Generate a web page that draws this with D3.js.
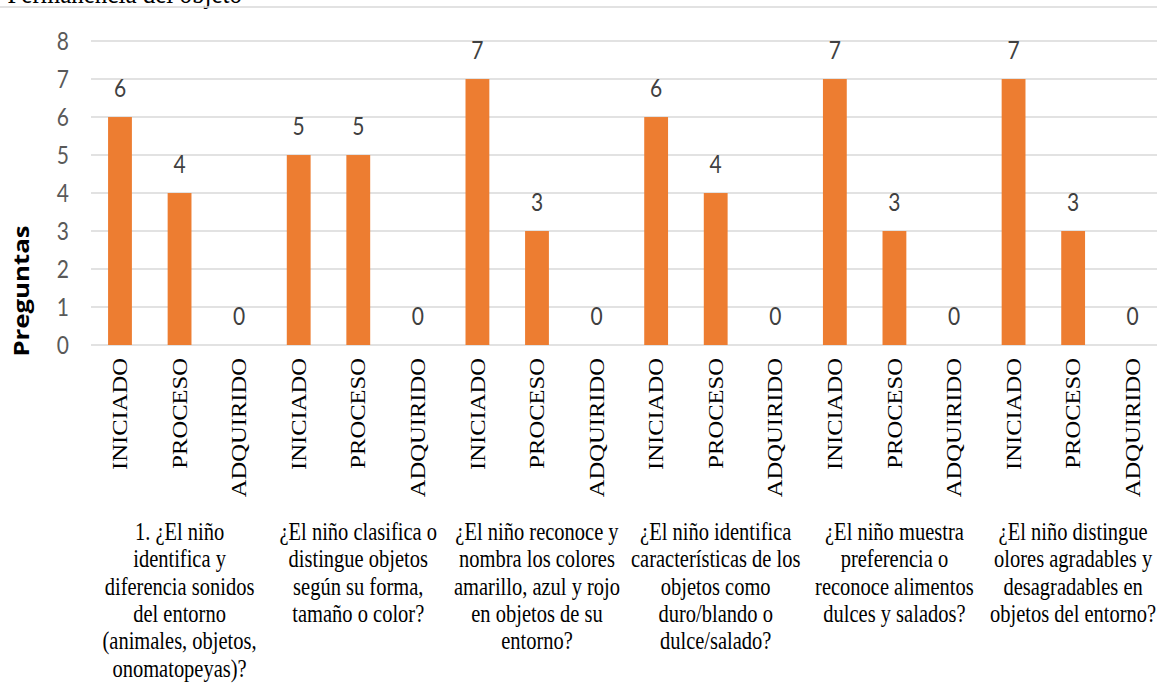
<!DOCTYPE html>
<html>
<head>
<meta charset="utf-8">
<script src="https://cdn.jsdelivr.net/npm/d3@7"></script>
<style>
  html, body { margin: 0; padding: 0; background: #fff; overflow: hidden; }
  svg { display: block; }
</style>
</head>
<body>
<div id="chart"></div>
<script>
// ---- data ----
const title = "Permanencia del objeto";
const yAxisTitle = "Preguntas";
const levels = ["INICIADO", "PROCESO", "ADQUIRIDO"];
const questions = [
  ["1. ¿El niño", "identifica y", "diferencia sonidos", "del entorno", "(animales, objetos,", "onomatopeyas)?"],
  ["¿El niño clasifica o", "distingue objetos", "según su forma,", "tamaño o color?"],
  ["¿El niño reconoce y", "nombra los colores", "amarillo, azul y rojo", "en objetos de su", "entorno?"],
  ["¿El niño identifica", "características de los", "objetos como", "duro/blando o", "dulce/salado?"],
  ["¿El niño muestra", "preferencia o", "reconoce alimentos", "dulces y salados?"],
  ["¿El niño distingue", "olores agradables y", "desagradables en", "objetos del entorno?"]
];
const iniciado = [6, 5, 7, 6, 7, 7];
const proceso = [4, 5, 3, 4, 3, 3];
const adquirido = [0, 0, 0, 0, 0, 0];
const yTicks = [0, 1, 2, 3, 4, 5, 6, 7, 8];

// ---- build flat rows ----
const seriesVals = [iniciado, proceso, adquirido];
const rows = [];
questions.forEach((q, qi) => {
  levels.forEach((lv, li) => {
    rows.push({ id: qi * 3 + li, q: qi, level: lv, value: seriesVals[li][qi] });
  });
});

// ---- layout (viewBox stretched vertically to match reference) ----
const W = 1157, H = 684, VH = 570;
const svg = d3.select("#chart").append("svg")
  .attr("width", W).attr("height", H)
  .attr("viewBox", `0 0 ${W} ${VH}`)
  .attr("preserveAspectRatio", "none");

const x = d3.scaleBand().domain(rows.map(d => d.id)).range([90.2, 1162.5]).padding(0);
const y = d3.scaleLinear().domain([0, 8]).range([287.5, 34.2]);
const barW = x.bandwidth() * 0.4;

const grid = "#D9D9D9";

// title (mostly cut off at top, as in the reference)
svg.append("text")
  .attr("x", 242).attr("y", 2.3)
  .attr("text-anchor", "end")
  .attr("font-family", "Liberation Serif, Times New Roman, serif")
  .attr("font-size", 25)
  .attr("fill", "#000")
  .text(title);

// top border line
svg.append("line")
  .attr("x1", 0).attr("x2", W).attr("y1", 5.8).attr("y2", 5.8)
  .attr("stroke", grid).attr("stroke-width", 1.3);

// y axis with gridlines
const yAxis = d3.axisLeft(y).tickValues(yTicks).tickSize(0).tickPadding(0);
const gy = svg.append("g").attr("transform", "translate(69,0)").call(yAxis);
gy.select(".domain").remove();
gy.selectAll("text")
  .attr("font-family", "Lato, Open Sans, sans-serif")
  .attr("font-size", 21)
  .attr("fill", "#595959")
  .attr("dy", "0.35em");

svg.append("g").selectAll("line").data(yTicks).join("line")
  .attr("x1", 91).attr("x2", W + 10)
  .attr("y1", d => y(d)).attr("y2", d => y(d))
  .attr("stroke", grid).attr("stroke-width", 1.3);

// y axis title
svg.append("text")
  .attr("transform", `translate(21,${291 / 1.2}) rotate(-90)`)
  .attr("text-anchor", "middle")
  .attr("dy", "0.35em")
  .attr("font-family", "Open Sans, Noto Sans, sans-serif")
  .attr("font-weight", "bold")
  .attr("font-size", 21.5)
  .attr("fill", "#000")
  .text(yAxisTitle);

// bars
svg.append("g").selectAll("rect").data(rows).join("rect")
  .attr("x", d => x(d.id) + (x.bandwidth() - barW) / 2)
  .attr("width", barW)
  .attr("y", d => y(d.value))
  .attr("height", d => y(0) - y(d.value))
  .attr("fill", "#ED7D31");

// value labels
svg.append("g").selectAll("text").data(rows).join("text")
  .attr("x", d => x(d.id) + x.bandwidth() / 2)
  .attr("y", d => y(d.value) - 17)
  .attr("text-anchor", "middle")
  .attr("font-family", "Lato, Open Sans, sans-serif")
  .attr("font-size", 21)
  .attr("fill", "#404040")
  .text(d => d.value);

// category (level) labels rotated
svg.append("g").selectAll("text").data(rows).join("text")
  .attr("transform", d => `translate(${x(d.id) + x.bandwidth() / 2},${358 / 1.2}) rotate(-90)`)
  .attr("text-anchor", "end")
  .attr("dy", "0.35em")
  .attr("font-family", "Liberation Serif, Times New Roman, serif")
  .attr("font-size", 20.5)
  .attr("fill", "#000")
  .text(d => d.level);

// question labels
const qg = svg.append("g").selectAll("text").data(questions).join("text")
  .attr("text-anchor", "middle")
  .attr("font-family", "Liberation Serif, Times New Roman, serif")
  .attr("font-size", 20.5)
  .attr("fill", "#000");
qg.each(function (lines, qi) {
  const cx = (x(qi * 3) + x(qi * 3 + 2) + x.bandwidth()) / 2;
  d3.select(this).selectAll("tspan").data(lines).join("tspan")
    .attr("x", cx)
    .attr("y", (d, i) => 540 / 1.2 + i * 22.8)
    .text(d => d);
});
</script>
</body>
</html>
